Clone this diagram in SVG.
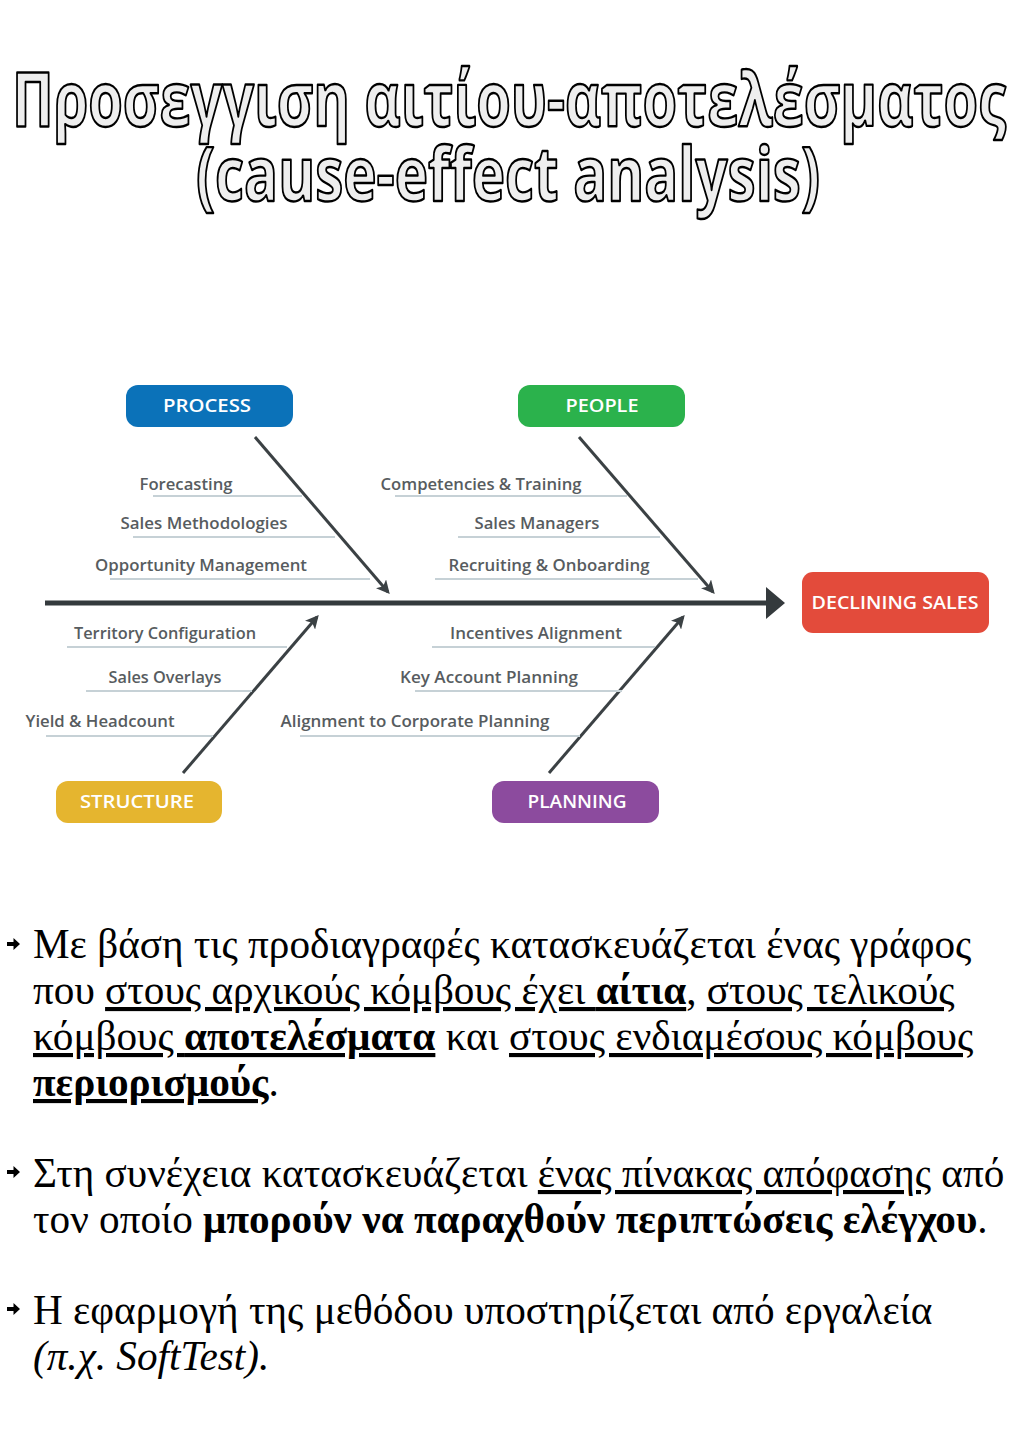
<svg xmlns="http://www.w3.org/2000/svg" width="1024" height="1448" viewBox="0 0 1024 1448">
<style>
.title{font-family:"Open Sans","DejaVu Sans",sans-serif;font-weight:700;font-size:76px;fill:#eeeeee;stroke:#000;stroke-width:2.4px;stroke-linejoin:round;text-anchor:middle}
.lbl{font-family:"Open Sans","Noto Sans",sans-serif;font-weight:600;font-size:15.5px;fill:#575c60;text-anchor:middle}
.box{font-family:"Open Sans","Noto Sans",sans-serif;font-weight:600;font-size:18.5px;fill:#ffffff;text-anchor:middle}
.rib{stroke:#c6d1d6;stroke-width:2;fill:none}
.bone{stroke:#3b4144;stroke-width:3;fill:none}
.body{font-family:"Liberation Serif","Times New Roman",serif;font-size:41.2px;fill:#000}
.u{text-decoration:underline}
.b{font-weight:bold}
.bul{fill:#000}
</style>
<defs>
<marker id="ah" viewBox="0 0 10 10" refX="8" refY="5" markerWidth="4.5" markerHeight="4.5" orient="auto" markerUnits="strokeWidth">
<path d="M0,0 L10,5 L0,10 L2.5,5 Z" fill="#3b4144"/>
</marker>
<path id="arrow" d="M0,-2 L6.5,-2 L6.5,-6 L13,0 L6.5,6 L6.5,2 L0,2 Z"/>
</defs>
<rect width="1024" height="1448" fill="#ffffff"/>

<g id="title">
<text class="title" x="509" y="126" textLength="994" lengthAdjust="spacingAndGlyphs">Προσεγγιση αιτίου-αποτελέσματος</text>
<text class="title" x="508" y="201" textLength="624" lengthAdjust="spacingAndGlyphs">(cause-effect analysis)</text>
</g>

<g id="connectors">
<line x1="45" y1="603" x2="768" y2="603" stroke="#343a3d" stroke-width="5"/>
<path d="M766,587 L785,603 L766,619 Z" fill="#343a3d"/>
<line class="bone" x1="255" y1="437" x2="388" y2="592" marker-end="url(#ah)"/>
<line class="bone" x1="579" y1="437" x2="713" y2="592" marker-end="url(#ah)"/>
<line class="bone" x1="183" y1="773" x2="317" y2="617" marker-end="url(#ah)"/>
<line class="bone" x1="549" y1="773" x2="683" y2="617" marker-end="url(#ah)"/>
<line class="rib" x1="153" y1="496" x2="302" y2="496"/>
<line class="rib" x1="133" y1="537" x2="335" y2="537"/>
<line class="rib" x1="110" y1="579" x2="370" y2="579"/>
<line class="rib" x1="395" y1="496" x2="627" y2="496"/>
<line class="rib" x1="458" y1="537" x2="660" y2="537"/>
<line class="rib" x1="435" y1="579" x2="698" y2="579"/>
<line class="rib" x1="67" y1="647" x2="287" y2="647"/>
<line class="rib" x1="86" y1="691" x2="252" y2="691"/>
<line class="rib" x1="46" y1="736" x2="213" y2="736"/>
<line class="rib" x1="432" y1="647" x2="655" y2="647"/>
<line class="rib" x1="415" y1="691" x2="622" y2="691"/>
<line class="rib" x1="300" y1="736" x2="580" y2="736"/>
</g>

<g id="process">
<rect x="126" y="385" width="167" height="42" rx="12" fill="#0b72b9"/>
<text class="box" x="207" y="412" textLength="88" lengthAdjust="spacingAndGlyphs">PROCESS</text>
</g>
<g id="people">
<rect x="518" y="385" width="167" height="42" rx="12" fill="#2bb24c"/>
<text class="box" x="602" y="412" textLength="73" lengthAdjust="spacingAndGlyphs">PEOPLE</text>
</g>
<g id="structure">
<rect x="56" y="781" width="166" height="42" rx="12" fill="#e5b52f"/>
<text class="box" x="137" y="808" textLength="114" lengthAdjust="spacingAndGlyphs">STRUCTURE</text>
</g>
<g id="planning">
<rect x="492" y="781" width="167" height="42" rx="12" fill="#8c4b9e"/>
<text class="box" x="577" y="808" textLength="99" lengthAdjust="spacingAndGlyphs">PLANNING</text>
</g>
<g id="declining-sales">
<rect x="802" y="572" width="187" height="61" rx="11" fill="#e34b3b"/>
<text class="box" x="895" y="609" textLength="167" lengthAdjust="spacingAndGlyphs">DECLINING SALES</text>
</g>

<g id="process-causes">
<text class="lbl" x="186" y="490" textLength="93" lengthAdjust="spacingAndGlyphs">Forecasting</text>
<text class="lbl" x="204" y="529" textLength="167" lengthAdjust="spacingAndGlyphs">Sales Methodologies</text>
<text class="lbl" x="201" y="571" textLength="212" lengthAdjust="spacingAndGlyphs">Opportunity Management</text>
</g>
<g id="people-causes">
<text class="lbl" x="481" y="490" textLength="201" lengthAdjust="spacingAndGlyphs">Competencies &amp; Training</text>
<text class="lbl" x="537" y="529" textLength="125" lengthAdjust="spacingAndGlyphs">Sales Managers</text>
<text class="lbl" x="549" y="571" textLength="201" lengthAdjust="spacingAndGlyphs">Recruiting &amp; Onboarding</text>
</g>
<g id="structure-causes">
<text class="lbl" x="165" y="639" textLength="182" lengthAdjust="spacingAndGlyphs">Territory Configuration</text>
<text class="lbl" x="165" y="683" textLength="113" lengthAdjust="spacingAndGlyphs">Sales Overlays</text>
<text class="lbl" x="100" y="727" textLength="149" lengthAdjust="spacingAndGlyphs">Yield &amp; Headcount</text>
</g>
<g id="planning-causes">
<text class="lbl" x="536" y="639" textLength="172" lengthAdjust="spacingAndGlyphs">Incentives Alignment</text>
<text class="lbl" x="489" y="683" textLength="178" lengthAdjust="spacingAndGlyphs">Key Account Planning</text>
<text class="lbl" x="415" y="727" textLength="269" lengthAdjust="spacingAndGlyphs">Alignment to Corporate Planning</text>
</g>

<g id="bullets">
<use href="#arrow" class="bul" x="7" y="944"/>
<use href="#arrow" class="bul" x="7" y="1172"/>
<use href="#arrow" class="bul" x="7" y="1309"/>
<text class="body" x="33" y="958">Με βάση τις προδιαγραφές κατασκευάζεται ένας γράφος</text>
<text class="body" x="33" y="1004">που <tspan class="u">στους αρχικούς κόμβους έχει <tspan class="b">αίτια</tspan></tspan>, <tspan class="u">στους τελικούς</tspan></text>
<text class="body" x="33" y="1050"><tspan class="u">κόμβους <tspan class="b">αποτελέσματα</tspan></tspan> και <tspan class="u">στους ενδιαμέσους κόμβους</tspan></text>
<text class="body" x="33" y="1096"><tspan class="u b">περιορισμούς</tspan>.</text>
<text class="body" x="33" y="1187">Στη συνέχεια κατασκευάζεται <tspan class="u">ένας πίνακας απόφασης</tspan> από</text>
<text class="body" x="33" y="1233">τον οποίο <tspan class="b">μπορούν να παραχθούν περιπτώσεις ελέγχου</tspan>.</text>
<text class="body" x="33" y="1324">Η εφαρμογή της μεθόδου υποστηρίζεται από εργαλεία</text>
<text class="body" x="33" y="1370" font-style="italic">(π.χ. SoftTest).</text>
</g>
</svg>
